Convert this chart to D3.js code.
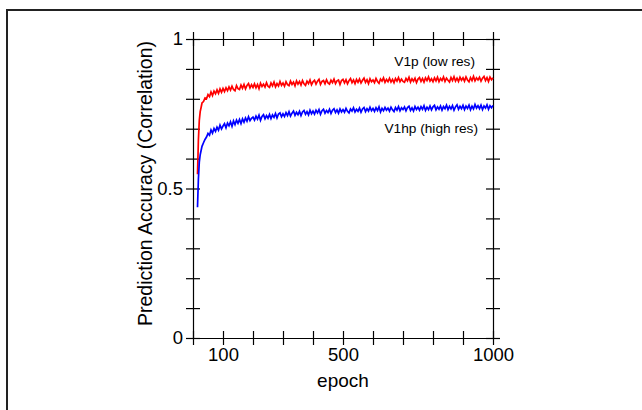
<!DOCTYPE html>
<html>
<head>
<meta charset="utf-8">
<script src="https://cdn.jsdelivr.net/npm/d3@7"></script>
<style>
body { margin: 0; background: #fff; }
text { font-family: "Liberation Sans", Arial, sans-serif; }
</style>
</head>
<body>
<svg id="chart" width="642" height="410"></svg>
<script>
// epochs at which accuracy was sampled
var epochs = [15, 18, 21, 24, 27, 30, 35, 40, 45, 50,
    55, 60, 65, 70, 75, 80, 85, 90, 95, 100,
    105, 110, 115, 120, 125, 130, 135, 140, 145, 150,
    155, 160, 165, 170, 175, 180, 185, 190, 195, 200,
    205, 210, 215, 220, 225, 230, 235, 240, 245, 250,
    255, 260, 265, 270, 275, 280, 285, 290, 295, 300,
    305, 310, 315, 320, 325, 330, 335, 340, 345, 350,
    355, 360, 365, 370, 375, 380, 385, 390, 395, 400,
    405, 410, 415, 420, 425, 430, 435, 440, 445, 450,
    455, 460, 465, 470, 475, 480, 485, 490, 495, 500,
    505, 510, 515, 520, 525, 530, 535, 540, 545, 550,
    555, 560, 565, 570, 575, 580, 585, 590, 595, 600,
    605, 610, 615, 620, 625, 630, 635, 640, 645, 650,
    655, 660, 665, 670, 675, 680, 685, 690, 695, 700,
    705, 710, 715, 720, 725, 730, 735, 740, 745, 750,
    755, 760, 765, 770, 775, 780, 785, 790, 795, 800,
    805, 810, 815, 820, 825, 830, 835, 840, 845, 850,
    855, 860, 865, 870, 875, 880, 885, 890, 895, 900,
    905, 910, 915, 920, 925, 930, 935, 940, 945, 950,
    955, 960, 965, 970, 975, 980, 985, 990, 995, 1000];

// V1p (low res)
var lowRes = [0.548, 0.662, 0.728, 0.757, 0.771, 0.786, 0.791, 0.803, 0.800, 0.814,
    0.807, 0.823, 0.811, 0.826, 0.817, 0.830, 0.818, 0.833, 0.822, 0.835,
    0.824, 0.837, 0.827, 0.840, 0.829, 0.842, 0.831, 0.827, 0.844, 0.834,
    0.831, 0.846, 0.835, 0.848, 0.833, 0.845, 0.851, 0.836, 0.847, 0.838,
    0.850, 0.837, 0.848, 0.834, 0.852, 0.841, 0.849, 0.839, 0.854, 0.842,
    0.838, 0.853, 0.843, 0.856, 0.840, 0.851, 0.843, 0.858, 0.845, 0.853,
    0.842, 0.857, 0.847, 0.844, 0.859, 0.848, 0.856, 0.843, 0.860, 0.849,
    0.858, 0.846, 0.861, 0.850, 0.845, 0.859, 0.851, 0.863, 0.847, 0.857,
    0.862, 0.849, 0.859, 0.865, 0.848, 0.858, 0.861, 0.850, 0.864, 0.853,
    0.849, 0.862, 0.854, 0.866, 0.851, 0.860, 0.863, 0.848, 0.861, 0.865,
    0.853, 0.864, 0.850, 0.861, 0.868, 0.854, 0.863, 0.851, 0.865, 0.855,
    0.866, 0.853, 0.862, 0.869, 0.855, 0.864, 0.851, 0.867, 0.857, 0.863,
    0.854, 0.868, 0.858, 0.852, 0.866, 0.859, 0.870, 0.855, 0.865, 0.857,
    0.869, 0.856, 0.865, 0.854, 0.868, 0.859, 0.871, 0.857, 0.866, 0.858,
    0.855, 0.868, 0.860, 0.872, 0.856, 0.867, 0.859, 0.869, 0.854, 0.866,
    0.871, 0.858, 0.868, 0.856, 0.870, 0.861, 0.873, 0.859, 0.867, 0.857,
    0.870, 0.860, 0.872, 0.857, 0.868, 0.861, 0.873, 0.858, 0.869, 0.862,
    0.856, 0.871, 0.861, 0.874, 0.859, 0.869, 0.858, 0.872, 0.862, 0.870,
    0.859, 0.873, 0.863, 0.857, 0.871, 0.861, 0.875, 0.860, 0.870, 0.863,
    0.872, 0.859, 0.869, 0.875, 0.861, 0.871, 0.858, 0.873, 0.864, 0.870];

// V1hp (high res)
var highRes = [0.437, 0.532, 0.588, 0.613, 0.627, 0.641, 0.653, 0.664, 0.672, 0.684,
    0.678, 0.696, 0.685, 0.701, 0.691, 0.705, 0.695, 0.712, 0.699, 0.709,
    0.717, 0.703, 0.719, 0.710, 0.723, 0.708, 0.726, 0.714, 0.729, 0.718,
    0.731, 0.717, 0.733, 0.722, 0.736, 0.725, 0.740, 0.727, 0.735, 0.739,
    0.729, 0.742, 0.732, 0.745, 0.728, 0.741, 0.747, 0.733, 0.744, 0.735,
    0.748, 0.734, 0.746, 0.738, 0.751, 0.736, 0.749, 0.753, 0.740, 0.750,
    0.741, 0.754, 0.744, 0.757, 0.742, 0.752, 0.759, 0.745, 0.755, 0.747,
    0.758, 0.744, 0.756, 0.761, 0.748, 0.757, 0.746, 0.762, 0.750, 0.759,
    0.749, 0.762, 0.753, 0.764, 0.748, 0.760, 0.765, 0.752, 0.761, 0.754,
    0.765, 0.751, 0.762, 0.767, 0.754, 0.763, 0.752, 0.766, 0.756, 0.764,
    0.755, 0.768, 0.758, 0.753, 0.766, 0.759, 0.770, 0.756, 0.765, 0.758,
    0.769, 0.755, 0.766, 0.771, 0.757, 0.767, 0.759, 0.772, 0.760, 0.768,
    0.758, 0.770, 0.761, 0.773, 0.756, 0.768, 0.760, 0.771, 0.762, 0.769,
    0.759, 0.772, 0.763, 0.757, 0.771, 0.762, 0.774, 0.760, 0.770, 0.764,
    0.773, 0.760, 0.771, 0.775, 0.761, 0.770, 0.759, 0.774, 0.764, 0.772,
    0.762, 0.774, 0.765, 0.777, 0.761, 0.772, 0.764, 0.776, 0.763, 0.773,
    0.778, 0.763, 0.773, 0.765, 0.776, 0.762, 0.774, 0.767, 0.779, 0.764,
    0.775, 0.766, 0.777, 0.762, 0.773, 0.780, 0.765, 0.775, 0.767, 0.778,
    0.764, 0.776, 0.768, 0.779, 0.763, 0.775, 0.766, 0.781, 0.769, 0.777,
    0.767, 0.779, 0.764, 0.776, 0.769, 0.780, 0.765, 0.777, 0.770, 0.778];

var xTicks = [0, 100, 200, 300, 400, 500, 600, 700, 800, 900, 1000];
var xTickLabels = ["", "100", "", "", "", "500", "", "", "", "", "1000"];
var yTicks = [0, 0.1, 0.2, 0.3, 0.4, 0.5, 0.6, 0.7, 0.8, 0.9, 1];
var yTickLabels = ["0", "", "", "", "", "0.5", "", "", "", "", "1"];
var seriesNames = ["V1p (low res)", "V1hp (high res)"];

var svg = d3.select("#chart");

// outer frame (runs off the right and bottom edges)
svg.append("rect")
    .attr("x", 7).attr("y", 10)
    .attr("width", 700).attr("height", 500)
    .attr("fill", "none")
    .attr("stroke", "#222")
    .attr("stroke-width", 2);

var plotLeft = 193, plotRight = 493, plotTop = 39, plotBottom = 338;

var x = d3.scaleLinear().domain([0, 1000]).range([plotLeft, plotRight]);
var y = d3.scaleLinear().domain([0, 1]).range([plotBottom, plotTop]);

var tickLen = 7;

function styleAxis(g) {
    g.select(".domain").attr("stroke", "#000").attr("stroke-width", 1.2);
    g.selectAll(".tick line").attr("stroke", "#000").attr("stroke-width", 1.2);
    g.selectAll(".tick text")
        .attr("fill", "#000")
        .style("font-size", "18.5px")
        .style("font-family", "'Liberation Sans', Arial, sans-serif");
}

var xBottom = svg.append("g")
    .attr("transform", "translate(0," + plotBottom + ")")
    .call(d3.axisBottom(x).tickValues(xTicks)
        .tickFormat(function (d, i) { return xTickLabels[i]; })
        .tickSize(tickLen).tickSizeOuter(0).tickPadding(3));
xBottom.selectAll(".tick line").attr("y1", -tickLen);
styleAxis(xBottom);

var xTop = svg.append("g")
    .attr("transform", "translate(0," + plotTop + ")")
    .call(d3.axisTop(x).tickValues(xTicks).tickFormat("")
        .tickSize(tickLen).tickSizeOuter(0));
xTop.selectAll(".tick line").attr("y1", tickLen);
styleAxis(xTop);

var yLeft = svg.append("g")
    .attr("transform", "translate(" + plotLeft + ",0)")
    .call(d3.axisLeft(y).tickValues(yTicks)
        .tickFormat(function (d, i) { return yTickLabels[i]; })
        .tickSize(tickLen).tickSizeOuter(0).tickPadding(3));
yLeft.selectAll(".tick line").attr("x1", tickLen);
styleAxis(yLeft);

var yRight = svg.append("g")
    .attr("transform", "translate(" + plotRight + ",0)")
    .call(d3.axisRight(y).tickValues(yTicks).tickFormat("")
        .tickSize(tickLen).tickSizeOuter(0));
yRight.selectAll(".tick line").attr("x1", -tickLen);
styleAxis(yRight);

// curves
var line = d3.line()
    .x(function (d) { return x(d[0]); })
    .y(function (d) { return y(d[1]); });

svg.append("path")
    .datum(d3.zip(epochs, lowRes))
    .attr("fill", "none")
    .attr("stroke", "#ff0000")
    .attr("stroke-width", 1.7)
    .attr("d", line);

svg.append("path")
    .datum(d3.zip(epochs, highRes))
    .attr("fill", "none")
    .attr("stroke", "#0000ff")
    .attr("stroke-width", 1.7)
    .attr("d", line);

// series labels
svg.append("text")
    .attr("x", 475).attr("y", 66)
    .attr("text-anchor", "end")
    .style("font-size", "13.7px")
    .text(seriesNames[0]);

svg.append("text")
    .attr("x", 478).attr("y", 133)
    .attr("text-anchor", "end")
    .style("font-size", "13.7px")
    .text(seriesNames[1]);

// axis titles
svg.append("text")
    .attr("x", x(500)).attr("y", 387)
    .attr("text-anchor", "middle")
    .style("font-size", "19px")
    .text("epoch");

svg.append("text")
    .attr("transform", "translate(152," + ((plotTop + plotBottom) / 2 - 5) + ") rotate(-90)")
    .attr("text-anchor", "middle")
    .style("font-size", "19.5px")
    .text("Prediction Accuracy (Correlation)");
</script>
</body>
</html>
